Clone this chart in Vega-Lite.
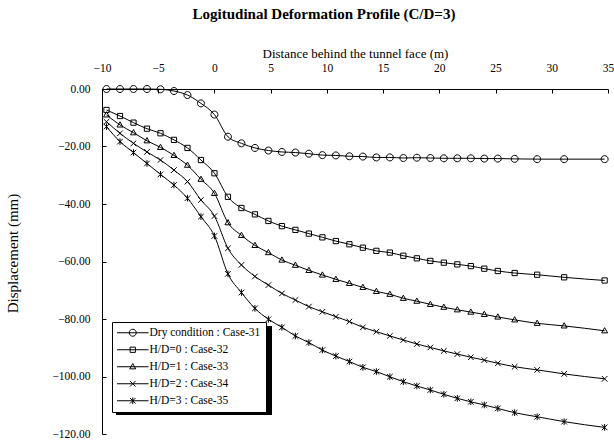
{
  "$schema": "https://vega.github.io/schema/vega-lite/v6.json",
  "autosize": {"type": "none"},
  "padding": {"left": 102, "top": 89, "right": 6, "bottom": 9},
  "width": 506,
  "height": 345,
  "background": "white",
  "title": {
    "text": "Logitudinal Deformation Profile (C/D=3)",
    "font": "Liberation Serif",
    "fontSize": 15,
    "fontWeight": "bold",
    "color": "black",
    "dx": -31,
    "offset": 26
  },
  "config": {
    "font": "Liberation Serif",
    "view": {"stroke": null},
    "axis": {
      "grid": false,
      "domainColor": "black",
      "tickColor": "black",
      "labelColor": "black",
      "titleColor": "black",
      "labelFont": "Liberation Serif",
      "titleFont": "Liberation Serif",
      "titleFontWeight": "normal",
      "labelFontSize": 11.5
    },
    "legend": {"labelFont": "Liberation Serif"}
  },
  "data": {"values": [
    {"s":"Dry condition : Case-31","x":-9.6,"y":0},{"s":"Dry condition : Case-31","x":-8.4,"y":0},{"s":"Dry condition : Case-31","x":-7.2,"y":0},{"s":"Dry condition : Case-31","x":-6.0,"y":0},{"s":"Dry condition : Case-31","x":-4.8,"y":-0.1},{"s":"Dry condition : Case-31","x":-3.6,"y":-0.7},{"s":"Dry condition : Case-31","x":-2.4,"y":-2.1},{"s":"Dry condition : Case-31","x":-1.2,"y":-5.0},{"s":"Dry condition : Case-31","x":0,"y":-8.9},{"s":"Dry condition : Case-31","x":1.2,"y":-16.6},{"s":"Dry condition : Case-31","x":2.4,"y":-18.9},{"s":"Dry condition : Case-31","x":3.6,"y":-20.5},{"s":"Dry condition : Case-31","x":4.8,"y":-21.4},{"s":"Dry condition : Case-31","x":6.0,"y":-21.9},{"s":"Dry condition : Case-31","x":7.2,"y":-22.1},{"s":"Dry condition : Case-31","x":8.4,"y":-22.5},{"s":"Dry condition : Case-31","x":9.6,"y":-23.0},{"s":"Dry condition : Case-31","x":10.8,"y":-23.1},{"s":"Dry condition : Case-31","x":12.0,"y":-23.4},{"s":"Dry condition : Case-31","x":13.2,"y":-23.5},{"s":"Dry condition : Case-31","x":14.4,"y":-23.8},{"s":"Dry condition : Case-31","x":15.6,"y":-23.8},{"s":"Dry condition : Case-31","x":16.8,"y":-24.0},{"s":"Dry condition : Case-31","x":18.0,"y":-23.9},{"s":"Dry condition : Case-31","x":19.2,"y":-24.0},{"s":"Dry condition : Case-31","x":20.4,"y":-24.1},{"s":"Dry condition : Case-31","x":21.6,"y":-24.1},{"s":"Dry condition : Case-31","x":22.8,"y":-24.1},{"s":"Dry condition : Case-31","x":24.0,"y":-24.2},{"s":"Dry condition : Case-31","x":25.2,"y":-24.2},{"s":"Dry condition : Case-31","x":26.7,"y":-24.3},{"s":"Dry condition : Case-31","x":28.7,"y":-24.4},{"s":"Dry condition : Case-31","x":31.1,"y":-24.4},{"s":"Dry condition : Case-31","x":34.7,"y":-24.4},
    {"s":"H/D=0 : Case-32","x":-9.6,"y":-7.3},{"s":"H/D=0 : Case-32","x":-8.4,"y":-9.4},{"s":"H/D=0 : Case-32","x":-7.2,"y":-11.7},{"s":"H/D=0 : Case-32","x":-6.0,"y":-13.8},{"s":"H/D=0 : Case-32","x":-4.8,"y":-15.4},{"s":"H/D=0 : Case-32","x":-3.6,"y":-17.7},{"s":"H/D=0 : Case-32","x":-2.4,"y":-20.5},{"s":"H/D=0 : Case-32","x":-1.2,"y":-24.7},{"s":"H/D=0 : Case-32","x":0,"y":-29.3},{"s":"H/D=0 : Case-32","x":1.2,"y":-37.5},{"s":"H/D=0 : Case-32","x":2.4,"y":-41.4},{"s":"H/D=0 : Case-32","x":3.6,"y":-43.6},{"s":"H/D=0 : Case-32","x":4.8,"y":-45.9},{"s":"H/D=0 : Case-32","x":6.0,"y":-47.7},{"s":"H/D=0 : Case-32","x":7.2,"y":-49.0},{"s":"H/D=0 : Case-32","x":8.4,"y":-50.3},{"s":"H/D=0 : Case-32","x":9.6,"y":-51.6},{"s":"H/D=0 : Case-32","x":10.8,"y":-52.9},{"s":"H/D=0 : Case-32","x":12.0,"y":-54.0},{"s":"H/D=0 : Case-32","x":13.2,"y":-55.2},{"s":"H/D=0 : Case-32","x":14.4,"y":-56.3},{"s":"H/D=0 : Case-32","x":15.6,"y":-56.9},{"s":"H/D=0 : Case-32","x":16.8,"y":-58.0},{"s":"H/D=0 : Case-32","x":18.0,"y":-58.9},{"s":"H/D=0 : Case-32","x":19.2,"y":-59.8},{"s":"H/D=0 : Case-32","x":20.4,"y":-60.4},{"s":"H/D=0 : Case-32","x":21.6,"y":-61.0},{"s":"H/D=0 : Case-32","x":22.8,"y":-61.6},{"s":"H/D=0 : Case-32","x":24.0,"y":-62.5},{"s":"H/D=0 : Case-32","x":25.2,"y":-63.3},{"s":"H/D=0 : Case-32","x":26.7,"y":-64.0},{"s":"H/D=0 : Case-32","x":28.7,"y":-64.6},{"s":"H/D=0 : Case-32","x":31.1,"y":-65.5},{"s":"H/D=0 : Case-32","x":34.7,"y":-66.6},
    {"s":"H/D=1 : Case-33","x":-9.6,"y":-9.0},{"s":"H/D=1 : Case-33","x":-8.4,"y":-12.5},{"s":"H/D=1 : Case-33","x":-7.2,"y":-15.2},{"s":"H/D=1 : Case-33","x":-6.0,"y":-18.0},{"s":"H/D=1 : Case-33","x":-4.8,"y":-20.3},{"s":"H/D=1 : Case-33","x":-3.6,"y":-23.1},{"s":"H/D=1 : Case-33","x":-2.4,"y":-26.5},{"s":"H/D=1 : Case-33","x":-1.2,"y":-31.4},{"s":"H/D=1 : Case-33","x":0,"y":-36.3},{"s":"H/D=1 : Case-33","x":1.2,"y":-46.5},{"s":"H/D=1 : Case-33","x":2.4,"y":-50.9},{"s":"H/D=1 : Case-33","x":3.6,"y":-54.4},{"s":"H/D=1 : Case-33","x":4.8,"y":-56.9},{"s":"H/D=1 : Case-33","x":6.0,"y":-59.5},{"s":"H/D=1 : Case-33","x":7.2,"y":-61.3},{"s":"H/D=1 : Case-33","x":8.4,"y":-63.1},{"s":"H/D=1 : Case-33","x":9.6,"y":-64.7},{"s":"H/D=1 : Case-33","x":10.8,"y":-66.2},{"s":"H/D=1 : Case-33","x":12.0,"y":-67.6},{"s":"H/D=1 : Case-33","x":13.2,"y":-69.0},{"s":"H/D=1 : Case-33","x":14.4,"y":-70.4},{"s":"H/D=1 : Case-33","x":15.6,"y":-71.4},{"s":"H/D=1 : Case-33","x":16.8,"y":-72.8},{"s":"H/D=1 : Case-33","x":18.0,"y":-73.8},{"s":"H/D=1 : Case-33","x":19.2,"y":-74.9},{"s":"H/D=1 : Case-33","x":20.4,"y":-75.9},{"s":"H/D=1 : Case-33","x":21.6,"y":-76.8},{"s":"H/D=1 : Case-33","x":22.8,"y":-77.6},{"s":"H/D=1 : Case-33","x":24.0,"y":-78.4},{"s":"H/D=1 : Case-33","x":25.2,"y":-79.3},{"s":"H/D=1 : Case-33","x":26.7,"y":-80.3},{"s":"H/D=1 : Case-33","x":28.7,"y":-81.5},{"s":"H/D=1 : Case-33","x":31.1,"y":-82.4},{"s":"H/D=1 : Case-33","x":34.7,"y":-84.1},
    {"s":"H/D=2 : Case-34","x":-9.6,"y":-11.4},{"s":"H/D=2 : Case-34","x":-8.4,"y":-15.4},{"s":"H/D=2 : Case-34","x":-7.2,"y":-18.9},{"s":"H/D=2 : Case-34","x":-6.0,"y":-21.9},{"s":"H/D=2 : Case-34","x":-4.8,"y":-24.7},{"s":"H/D=2 : Case-34","x":-3.6,"y":-28.2},{"s":"H/D=2 : Case-34","x":-2.4,"y":-32.2},{"s":"H/D=2 : Case-34","x":-1.2,"y":-38.6},{"s":"H/D=2 : Case-34","x":0,"y":-44.2},{"s":"H/D=2 : Case-34","x":1.2,"y":-55.4},{"s":"H/D=2 : Case-34","x":2.4,"y":-61.2},{"s":"H/D=2 : Case-34","x":3.6,"y":-65.2},{"s":"H/D=2 : Case-34","x":4.8,"y":-68.2},{"s":"H/D=2 : Case-34","x":6.0,"y":-71.1},{"s":"H/D=2 : Case-34","x":7.2,"y":-73.4},{"s":"H/D=2 : Case-34","x":8.4,"y":-75.7},{"s":"H/D=2 : Case-34","x":9.6,"y":-77.5},{"s":"H/D=2 : Case-34","x":10.8,"y":-79.2},{"s":"H/D=2 : Case-34","x":12.0,"y":-80.9},{"s":"H/D=2 : Case-34","x":13.2,"y":-82.9},{"s":"H/D=2 : Case-34","x":14.4,"y":-84.4},{"s":"H/D=2 : Case-34","x":15.6,"y":-85.9},{"s":"H/D=2 : Case-34","x":16.8,"y":-87.3},{"s":"H/D=2 : Case-34","x":18.0,"y":-88.7},{"s":"H/D=2 : Case-34","x":19.2,"y":-89.9},{"s":"H/D=2 : Case-34","x":20.4,"y":-91.1},{"s":"H/D=2 : Case-34","x":21.6,"y":-92.2},{"s":"H/D=2 : Case-34","x":22.8,"y":-93.3},{"s":"H/D=2 : Case-34","x":24.0,"y":-94.3},{"s":"H/D=2 : Case-34","x":25.2,"y":-95.4},{"s":"H/D=2 : Case-34","x":26.7,"y":-96.6},{"s":"H/D=2 : Case-34","x":28.7,"y":-97.7},{"s":"H/D=2 : Case-34","x":31.1,"y":-99.1},{"s":"H/D=2 : Case-34","x":34.7,"y":-100.8},
    {"s":"H/D=3 : Case-35","x":-9.6,"y":-13.1},{"s":"H/D=3 : Case-35","x":-8.4,"y":-18.3},{"s":"H/D=3 : Case-35","x":-7.2,"y":-22.1},{"s":"H/D=3 : Case-35","x":-6.0,"y":-25.9},{"s":"H/D=3 : Case-35","x":-4.8,"y":-29.7},{"s":"H/D=3 : Case-35","x":-3.6,"y":-33.4},{"s":"H/D=3 : Case-35","x":-2.4,"y":-38.0},{"s":"H/D=3 : Case-35","x":-1.2,"y":-44.4},{"s":"H/D=3 : Case-35","x":0,"y":-51.1},{"s":"H/D=3 : Case-35","x":1.2,"y":-64.3},{"s":"H/D=3 : Case-35","x":2.4,"y":-70.8},{"s":"H/D=3 : Case-35","x":3.6,"y":-76.3},{"s":"H/D=3 : Case-35","x":4.8,"y":-80.1},{"s":"H/D=3 : Case-35","x":6.0,"y":-82.9},{"s":"H/D=3 : Case-35","x":7.2,"y":-85.9},{"s":"H/D=3 : Case-35","x":8.4,"y":-88.2},{"s":"H/D=3 : Case-35","x":9.6,"y":-90.8},{"s":"H/D=3 : Case-35","x":10.8,"y":-92.9},{"s":"H/D=3 : Case-35","x":12.0,"y":-94.8},{"s":"H/D=3 : Case-35","x":13.2,"y":-96.8},{"s":"H/D=3 : Case-35","x":14.4,"y":-98.3},{"s":"H/D=3 : Case-35","x":15.6,"y":-100.1},{"s":"H/D=3 : Case-35","x":16.8,"y":-101.8},{"s":"H/D=3 : Case-35","x":18.0,"y":-103.3},{"s":"H/D=3 : Case-35","x":19.2,"y":-104.7},{"s":"H/D=3 : Case-35","x":20.4,"y":-106.2},{"s":"H/D=3 : Case-35","x":21.6,"y":-107.6},{"s":"H/D=3 : Case-35","x":22.8,"y":-108.8},{"s":"H/D=3 : Case-35","x":24.0,"y":-109.9},{"s":"H/D=3 : Case-35","x":25.2,"y":-111.1},{"s":"H/D=3 : Case-35","x":26.7,"y":-112.6},{"s":"H/D=3 : Case-35","x":28.7,"y":-114.0},{"s":"H/D=3 : Case-35","x":31.1,"y":-115.7},{"s":"H/D=3 : Case-35","x":34.7,"y":-117.7}
  ]},
  "encoding": {
    "x": {
      "field": "x", "type": "quantitative",
      "scale": {"domain": [-10, 35], "nice": false, "zero": false},
      "axis": {
        "orient": "top",
        "title": "Distance behind the tunnel face (m)",
        "titleFontSize": 13,
        "values": [-10, -5, 0, 5, 10, 15, 20, 25, 30, 35],
        "tickSize": -4,
        "labelPadding": 20,
        "titleY": -35.5,
        "titleBaseline": "middle",
        "labelFlush": false
      }
    },
    "y": {
      "field": "y", "type": "quantitative",
      "scale": {"domain": [-120, 0], "nice": false, "zero": false},
      "axis": {
        "title": "Displacement (mm)",
        "titleFontSize": 15,
        "values": [-120, -100, -80, -60, -40, -20, 0],
        "format": ".2f",
        "tickSize": -4,
        "labelPadding": 16,
        "titleX": -90,
        "titleY": 164,
        "titleAngle": -90,
        "titleBaseline": "middle",
        "labelFlush": false
      }
    }
  },
  "layer": [
    {
      "mark": {"type": "line", "color": "black", "strokeWidth": 1, "interpolate": "monotone"},
      "encoding": {"detail": {"field": "s"}}
    },
    {
      "mark": {"type": "point", "filled": false, "stroke": "black", "strokeWidth": 1, "size": 49, "opacity": 1},
      "encoding": {
        "shape": {
          "field": "s", "type": "nominal",
          "scale": {
            "domain": ["Dry condition : Case-31", "H/D=0 : Case-32", "H/D=1 : Case-33", "H/D=2 : Case-34", "H/D=3 : Case-35"],
            "range": [
              "M-1,0A1,1,0,1,1,1,0A1,1,0,1,1,-1,0Z",
              "M-0.75,-0.75L0.75,-0.75L0.75,0.75L-0.75,0.75Z",
              "M0,-0.9L0.85,0.6L-0.85,0.6Z",
              "M-0.8,-0.8L0.8,0.8M-0.8,0.8L0.8,-0.8",
              "M-0.8,-0.8L0.8,0.8M-0.8,0.8L0.8,-0.8M0,-0.95L0,0.95"
            ]
          },
          "legend": null
        }
      }
    },
    {
      "transform": [{"filter": "datum.x > 1000"}],
      "mark": {"type": "point", "filled": true, "size": 49, "opacity": 1},
      "encoding": {
        "color": {
          "field": "y", "type": "quantitative",
          "scale": {"domain": [0, 1], "range": ["black", "black"]},
          "legend": {
            "type": "gradient",
            "direction": "horizontal",
            "orient": "none",
            "legendX": 14,
            "legendY": 237,
            "title": null,
            "padding": 0,
            "gradientLength": 156,
            "gradientThickness": 89,
            "gradientStrokeColor": "black",
            "gradientStrokeWidth": 0,
            "values": [],
            "labelExpr": "''"
          }
        }
      }
    },
    {
      "transform": [{"filter": "datum.x > 1000"}],
      "mark": {"type": "point", "filled": false, "stroke": "black", "strokeWidth": 1, "size": 49, "opacity": 1},
      "encoding": {
        "shape": {
          "field": "s", "type": "nominal",
          "scale": {
            "domain": ["Dry condition : Case-31", "H/D=0 : Case-32", "H/D=1 : Case-33", "H/D=2 : Case-34", "H/D=3 : Case-35"],
            "range": [
              "M-1,0A1,1,0,1,1,1,0A1,1,0,1,1,-1,0ZM-4.5,0L4.5,0",
              "M-0.75,-0.75L0.75,-0.75L0.75,0.75L-0.75,0.75ZM-4.5,0L4.5,0",
              "M0,-0.9L0.85,0.6L-0.85,0.6ZM-4.5,0L4.5,0",
              "M-0.8,-0.8L0.8,0.8M-0.8,0.8L0.8,-0.8M-4.5,0L4.5,0",
              "M-0.8,-0.8L0.8,0.8M-0.8,0.8L0.8,-0.8M0,-0.95L0,0.95M-4.5,0L4.5,0"
            ]
          },
          "legend": {
            "orient": "none",
            "legendX": 10,
            "legendY": 233,
            "title": null,
            "strokeColor": "black",
            "fillColor": "white",
            "padding": 5,
            "labelFont": "Liberation Serif",
            "labelFontSize": 11.5,
            "labelColor": "black",
            "symbolSize": 49,
            "symbolStrokeColor": "black",
            "symbolStrokeWidth": 1,
            "symbolOffset": 10,
            "labelOffset": 11,
            "rowPadding": 4
          }
        }
      }
    }
  ],
  "resolve": {"scale": {"shape": "independent"}, "legend": {"shape": "independent"}}
}
